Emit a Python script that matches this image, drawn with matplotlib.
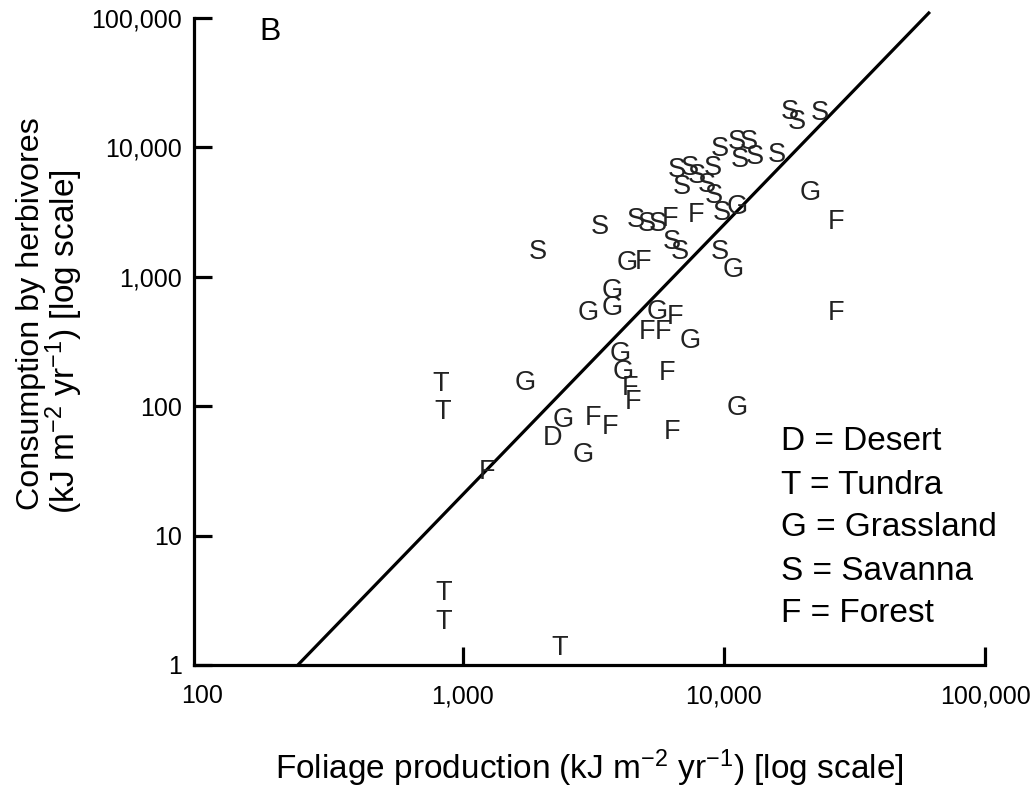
import numpy as np
import matplotlib.pyplot as plt
from matplotlib.ticker import FixedLocator, FixedFormatter

plt.rcParams['font.family'] = ['Liberation Sans', 'DejaVu Sans']
plt.rcParams['mathtext.fontset'] = 'custom'
plt.rcParams['mathtext.rm'] = 'Liberation Sans'
plt.rcParams['mathtext.it'] = 'Liberation Sans:italic'
plt.rcParams['mathtext.default'] = 'regular'

# foliage production (x) vs consumption by herbivores (y), kJ m-2 yr-1
desert_x = [2210]
desert_y = [57]

tundra_x = [824, 837, 840, 840, 2355]
tundra_y = [149, 90, 3.6, 2.15, 1.35]

grass_x = [2415, 2884, 1729, 4000, 4106, 11220, 7413, 5540, 3013, 3724,
           3724, 4250, 10820, 11220, 21380]
grass_y = [78, 42, 151, 253, 184, 97, 319, 535, 525, 574,
           777, 1279, 1129, 3461, 4443]

savanna_x = [1936, 3350, 4603, 5070, 5585, 6327, 6780, 9660, 9830, 6607,
             7413, 7886, 6906, 9078, 8610, 9162, 9660, 11220, 12480, 11510,
             13140, 15960, 17900, 19050, 23350]
savanna_y = [1555, 2427, 2748, 2559, 2559, 1857, 1555, 1555, 3112, 6688,
             6933, 6012, 4943, 6933, 5119, 4211, 9727, 11010, 11010, 7996,
             8433, 8735, 18780, 15710, 18440]

forest_x = [1236, 3148, 3656, 4365, 4477, 6053, 6327, 5070, 5840, 6486,
            4898, 6209, 7816, 26850, 26850]
forest_y = [31, 81, 69, 138, 108, 181, 63, 374, 374, 489,
            1301, 2798, 3005, 2653, 525]

groups = [('D', desert_x, desert_y), ('T', tundra_x, tundra_y),
          ('G', grass_x, grass_y), ('S', savanna_x, savanna_y),
          ('F', forest_x, forest_y)]

legend_lines = ['D = Desert', 'T = Tundra', 'G = Grassland',
                'S = Savanna', 'F = Forest']

# fitted line: log y = slope * (log x - log x0)
fit_slope = 2.084
fit_x0 = 233
fit_xmax = 61500

xticks = [100, 1000, 10000, 100000]
xlabels = ['100', '1,000', '10,000', '100,000']
yticks = [1, 10, 100, 1000, 10000, 100000]
ylabels = ['1', '10', '100', '1,000', '10,000', '100,000']

fig = plt.figure(figsize=(10.36, 7.90), dpi=100)
ax = fig.add_axes([194 / 1036, 125 / 790, 791 / 1036, 653 / 790])
ax.set_xscale('log')
ax.set_yscale('log')
ax.set_xlim(93.2, 100000)
ax.set_ylim(1, 111000)

fx = np.array([fit_x0, fit_xmax])
fy = (fx / fit_x0) ** fit_slope
ax.plot(fx, fy, color='black', lw=2.3, solid_capstyle='butt', clip_on=False)

for letter, xs, ys in groups:
    for x, y in zip(xs, ys):
        ax.text(x, y, letter, ha='center', va='center', fontsize=19.5,
                color='#222222')

for s in ['top', 'right']:
    ax.spines[s].set_visible(False)
for s in ['left', 'bottom']:
    ax.spines[s].set_linewidth(2.3)
ax.spines['left'].set_bounds(1, 100000)

ax.xaxis.set_major_locator(FixedLocator(xticks))
ax.xaxis.set_major_formatter(FixedFormatter(xlabels))
ax.yaxis.set_major_locator(FixedLocator(yticks))
ax.yaxis.set_major_formatter(FixedFormatter(ylabels))
ax.xaxis.set_minor_locator(FixedLocator([]))
ax.yaxis.set_minor_locator(FixedLocator([]))
ax.tick_params(axis='both', direction='in', length=13, width=2.3,
               labelsize=18)
ax.tick_params(axis='x', pad=14)
ax.tick_params(axis='y', pad=9)
ax.xaxis.get_major_ticks()[0].tick1line.set_visible(False)

ax.set_xlabel('Foliage production (kJ m$^{-2}$ yr$^{-1}$) [log scale]',
              fontsize=24, labelpad=28)

# y label as two rotated lines
fig.text(31 / 1036, 1 - 314 / 790, 'Consumption by herbivores',
         fontsize=23.2, rotation=90, ha='center', va='center')
fig.text(64 / 1036, 1 - 342 / 790, '(kJ m$^{-2}$ yr$^{-1}$) [log scale]',
         fontsize=24, rotation=90, ha='center', va='center')

fig.text(270 / 1036, 1 - 32 / 790, 'B', fontsize=23, ha='center',
         va='center')

for i, line in enumerate(legend_lines):
    fig.text(781 / 1036, 1 - (442 + 43 * i) / 790, line, fontsize=24,
             ha='left', va='center')

fig.savefig('out.png', dpi=100)
